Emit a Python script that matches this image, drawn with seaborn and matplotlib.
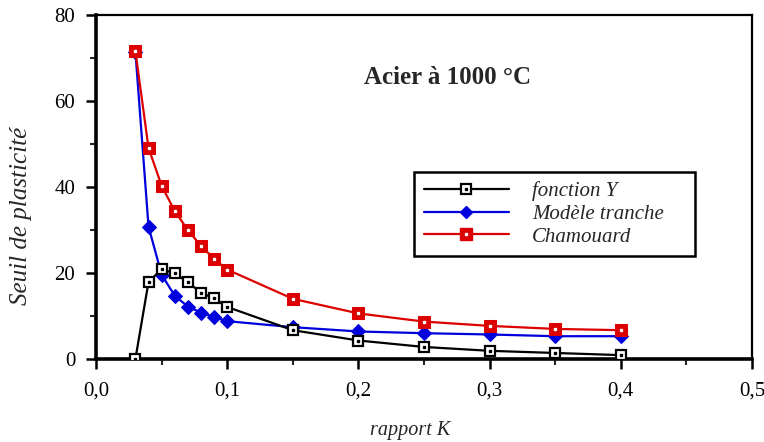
import matplotlib
matplotlib.use("Agg")
import matplotlib.pyplot as plt
import seaborn as sns
import pandas as pd
from matplotlib.lines import Line2D
from matplotlib.legend_handler import HandlerTuple
from matplotlib.ticker import MultipleLocator, FuncFormatter

k = [0.03, 0.04, 0.05, 0.06, 0.07, 0.08, 0.09, 0.10, 0.15, 0.20, 0.25, 0.30, 0.35, 0.40]
fonction_y = [0.0, 17.9, 20.9, 19.9, 17.9, 15.4, 14.1, 12.1, 6.7, 4.3, 2.8, 1.9, 1.4, 0.9]
modele_tranche = [71.5, 30.8, 19.6, 14.7, 12.2, 10.8, 9.8, 8.8, 7.4, 6.4, 6.0, 5.7, 5.3, 5.3]
chamouard = [71.6, 49.1, 40.3, 34.4, 30.0, 26.3, 23.3, 20.8, 14.0, 10.6, 8.7, 7.7, 7.0, 6.7]
labels = ["fonction Y", "Modèle tranche", "Chamouard"]
title = "Acier à 1000 °C"
xlabel = "rapport K"
ylabel = "Seuil de plasticité"

df = pd.DataFrame({"k": k, "fy": fonction_y, "mt": modele_tranche, "ch": chamouard})

sns.set_style("white")
plt.rcParams["font.family"] = ["Liberation Serif", "DejaVu Serif"]

fig = plt.figure(figsize=(7.64, 4.42), dpi=100)
ax = fig.add_axes([0.1257, 0.1878, 0.8587, 0.778])

BLUE = "#0000dd"
RED = "#dd0000"

sns.lineplot(data=df, x="k", y="mt", ax=ax, color=BLUE, lw=1.6, marker="D",
             markersize=7, markerfacecolor=BLUE, markeredgecolor=BLUE, zorder=3)
sns.lineplot(data=df, x="k", y="fy", ax=ax, color="black", lw=1.6, marker="s",
             markersize=7.5, markerfacecolor="white", markeredgecolor="black",
             markeredgewidth=1.6, zorder=4)
ax.plot(df["k"], df["fy"], ls="none", marker="s", markersize=1.8, color="black", zorder=5)
sns.lineplot(data=df, x="k", y="ch", ax=ax, color=RED, lw=1.6, marker="s",
             markersize=8.5, markerfacecolor=RED, markeredgecolor=RED, zorder=6)
ax.plot(df["k"], df["ch"], ls="none", marker="s", markersize=1.8, color="white", zorder=7)

ax.set_xlim(0, 0.5)
ax.set_ylim(0, 80)
ax.xaxis.set_major_locator(MultipleLocator(0.1))
ax.xaxis.set_minor_locator(MultipleLocator(0.05))
ax.yaxis.set_major_locator(MultipleLocator(20))
ax.yaxis.set_minor_locator(MultipleLocator(10))
ax.xaxis.set_major_formatter(FuncFormatter(lambda v, p: f"{v:.1f}".replace(".", ",")))
ax.tick_params(axis="both", which="major", direction="out", length=7, width=1.8,
               labelsize=15, colors="black", pad=9)
ax.tick_params(axis="y", which="major", pad=8)
ax.tick_params(axis="both", which="minor", direction="out", length=4, width=1.5)
ax.tick_params(bottom=True, left=True, which="both")

for side in ["left", "bottom"]:
    ax.spines[side].set_linewidth(2.6)
    ax.spines[side].set_color("black")
for side in ["top", "right"]:
    ax.spines[side].set_linewidth(1.6)
    ax.spines[side].set_color("black")
    ax.spines[side].set_visible(True)

ax.set_xlabel(xlabel, fontsize=14.5, style="italic", labelpad=15, x=0.479)
ax.set_ylabel(ylabel, fontsize=18, style="italic", labelpad=16, y=0.416)
ax.text(0.536, 0.82, title, transform=ax.transAxes, fontsize=18, fontweight="bold",
        ha="center", va="center")

h_fy = (Line2D([], [], color="black", lw=1.6, marker="s", markersize=7,
               markerfacecolor="white", markeredgecolor="black", markeredgewidth=1.6),
        Line2D([], [], ls="none", marker="s", markersize=1.8, color="black"))
h_mt = Line2D([], [], color=BLUE, lw=1.6, marker="D", markersize=6,
              markerfacecolor=BLUE, markeredgecolor=BLUE)
h_ch = (Line2D([], [], color=RED, lw=1.6, marker="s", markersize=8,
               markerfacecolor=RED, markeredgecolor=RED),
        Line2D([], [], ls="none", marker="s", markersize=1.8, color="white"))
leg = ax.legend([h_fy, h_mt, h_ch], labels,
                handler_map={tuple: HandlerTuple(ndivide=1, pad=0)},
                loc="upper left", bbox_to_anchor=(0.485, 0.297, 0.428, 0.247),
                mode="expand",
                frameon=True, fancybox=False, edgecolor="black", framealpha=1,
                prop={"family": ["Liberation Serif"], "style": "italic", "size": 15},
                handlelength=4.1, handletextpad=1.1, labelspacing=0.15,
                borderpad=0.45, borderaxespad=0)
leg.get_frame().set_linewidth(1.8)
leg.get_frame().set_boxstyle("square", pad=0.0)

fig.savefig("out.png", dpi=100)
